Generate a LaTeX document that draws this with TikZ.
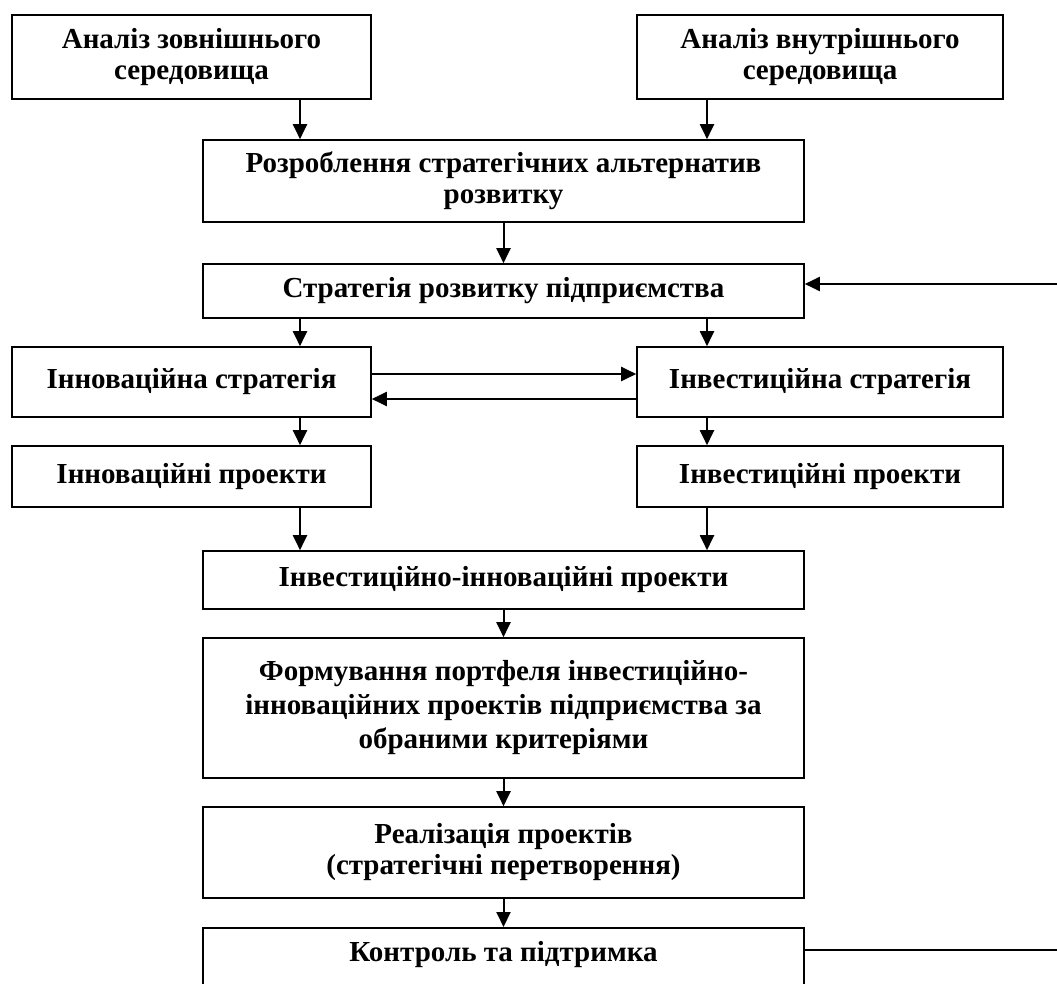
\documentclass[tikz,border=0pt]{standalone}
\usepackage{fontspec}
\setmainfont{Liberation Serif}
\usetikzlibrary{arrows.meta}
\tikzset{
  txt/.style={font=\fontsize{29}{31}\selectfont\bfseries},
  blk/.style={draw, line width=1.6pt, rectangle, inner sep=0pt, align=center, txt},
  arr/.style={line width=2pt, -{Triangle[length=15pt,width=14pt]}},
  ln/.style={line width=2pt}
}
\begin{document}
\begin{tikzpicture}[x=1pt,y=-1pt]
\useasboundingbox (0,0) rectangle (1057,984);
\clip (0,0) rectangle (1057,984);
% boxes (centre, width, height)
\node[blk, minimum width=359pt, minimum height=84pt] (ext) at (191.5,57) {Аналіз зовнішнього\\середовища};
\node[blk, minimum width=366pt, minimum height=84pt] (int) at (820,57) {Аналіз внутрішнього\\середовища};
\node[blk, minimum width=601pt, minimum height=82pt] (alt) at (503.5,181) {Розроблення стратегічних альтернатив\\розвитку};
\node[blk, minimum width=601pt, minimum height=54pt] (str) at (503.5,291) {Стратегія розвитку підприємства};
\node[blk, minimum width=359pt, minimum height=70pt] (inn) at (191.5,382) {Інноваційна стратегія};
\node[blk, minimum width=366pt, minimum height=70pt] (inv) at (820,382) {Інвестиційна стратегія};
\node[blk, minimum width=359pt, minimum height=61pt] (innp) at (191.5,476.5) {Інноваційні проекти};
\node[blk, minimum width=366pt, minimum height=61pt] (invp) at (820,476.5) {Інвестиційні проекти};
\node[blk, minimum width=601pt, minimum height=58pt] (iip) at (503.5,580) {Інвестиційно-інноваційні проекти};
\node[blk, minimum width=601pt, minimum height=140pt, font=\fontsize{29}{34}\selectfont\bfseries] (port) at (503.5,708) {Формування портфеля інвестиційно-\\інноваційних проектів підприємства за\\обраними критеріями};
\node[blk, minimum width=601pt, minimum height=91pt] (real) at (503.5,852.5) {Реалізація проектів\\(стратегічні перетворення)};
\node[blk, minimum width=601pt, minimum height=100pt, anchor=north] (ctrl) at (503.5,927) {};
\node[txt, anchor=base] (ctrlt) at (503.5,961) {Контроль та підтримка};
% coordinates for free ends
\coordinate (fbTop) at (1057,284);
\coordinate (fbBot) at (1057,950);
% arrows
\draw[arr] (ext.south -| 300,0) -- (alt.north -| 300,0);
\draw[arr] (int.south -| 707,0) -- (alt.north -| 707,0);
\draw[arr] (alt.south) -- (str.north);
\draw[arr] (str.south -| 300,0) -- (inn.north -| 300,0);
\draw[arr] (str.south -| 707,0) -- (inv.north -| 707,0);
\draw[arr] (inn.east |- 0,374) -- (inv.west |- 0,374);
\draw[arr] (inv.west |- 0,399) -- (inn.east |- 0,399);
\draw[arr] (inn.south -| 300,0) -- (innp.north -| 300,0);
\draw[arr] (inv.south -| 707,0) -- (invp.north -| 707,0);
\draw[arr] (innp.south -| 300,0) -- (iip.north -| 300,0);
\draw[arr] (invp.south -| 707,0) -- (iip.north -| 707,0);
\draw[arr] (iip.south) -- (port.north);
\draw[arr] (port.south) -- (real.north);
\draw[arr] (real.south) -- (ctrl.north);
\draw[ln] (ctrl.east |- fbBot) -- (fbBot);
\draw[arr] (fbTop) -- (str.east |- fbTop);
\end{tikzpicture}
\end{document}
